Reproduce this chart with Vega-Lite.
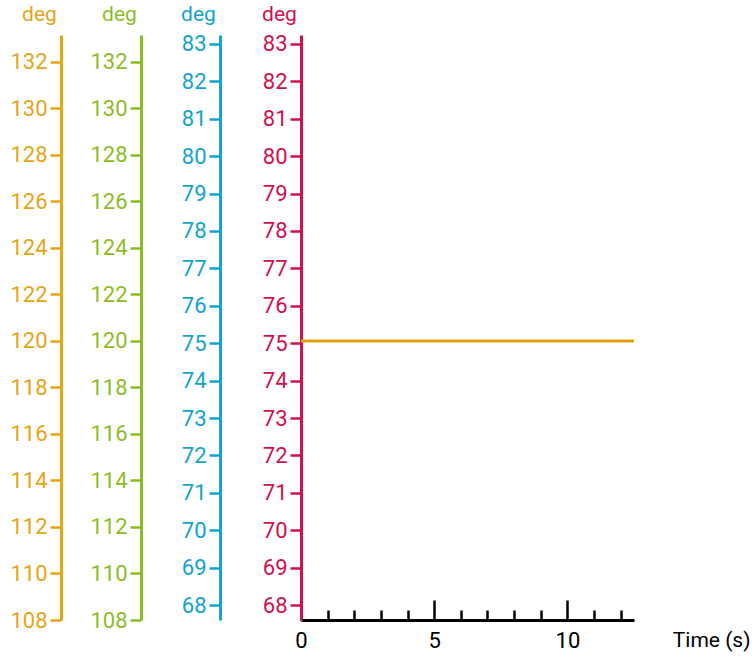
{
  "$schema": "https://vega.github.io/schema/vega-lite/v6.json",
  "width": 333,
  "height": 585,
  "autosize": "none",
  "padding": {"left": 301, "top": 35, "right": 122, "bottom": 43},
  "background": "white",
  "config": {
    "view": {"stroke": null},
    "font": "Roboto",
    "axis": {
      "grid": false,
      "labelFont": "Roboto",
      "titleFont": "Roboto",
      "labelFontSize": 22,
      "titleFontSize": 21,
      "titleFontWeight": "normal",
      "labelOverlap": false,
      "labelFlush": false,
      "domainWidth": 3,
      "tickWidth": 2.5,
      "zindex": 1
    }
  },
  "data": {
    "values": [
      {"time": 0, "value": 120},
      {"time": 12.5, "value": 120}
    ]
  },
  "encoding": {
    "x": {
      "field": "time",
      "type": "quantitative",
      "scale": {"domain": [0, 12.5], "nice": false, "zero": false},
      "axis": {
        "values": [0, 1, 2, 3, 4, 5, 6, 7, 8, 9, 10, 11, 12],
        "labelExpr": "datum.value % 5 === 0 ? datum.label : ''",
        "domainColor": "black",
        "tickColor": "black",
        "labelColor": "black",
        "tickSize": {"condition": {"test": "datum.value % 5 === 0", "value": -20}, "value": -10},
        "labelPadding": 30,
        "title": "Time (s)",
        "titleColor": "black",
        "titleAnchor": "end",
        "titleAlign": "right",
        "titleBaseline": "alphabetic",
        "titleX": 449,
        "titleY": 26
      }
    }
  },
  "layer": [
    {
      "mark": {"type": "line", "color": "#E2A012", "strokeWidth": 3},
      "encoding": {
        "y": {
          "field": "value",
          "type": "quantitative",
          "scale": {"domain": [108, 133.15], "nice": false, "zero": false},
          "axis": {
            "orient": "left",
            "offset": 240,
            "values": [108, 110, 112, 114, 116, 118, 120, 122, 124, 126, 128, 130, 132],
            "domainColor": "#E6A514",
            "tickColor": "#E6A514",
            "labelColor": "#E6A514",
            "tickSize": 11,
            "labelPadding": 3,
            "title": "deg",
            "titleColor": "#E6A514",
            "titleAngle": 0,
            "titleAlign": "center",
            "titleBaseline": "alphabetic",
            "titleX": -22,
            "titleY": -15
          }
        }
      }
    },
    {
      "mark": {"type": "line", "opacity": 0},
      "encoding": {
        "y": {
          "field": "value",
          "type": "quantitative",
          "scale": {"domain": [108, 133.15], "nice": false, "zero": false},
          "axis": {
            "orient": "left",
            "offset": 160,
            "values": [108, 110, 112, 114, 116, 118, 120, 122, 124, 126, 128, 130, 132],
            "domainColor": "#8CBE24",
            "tickColor": "#8CBE24",
            "labelColor": "#8CBE24",
            "tickSize": 11,
            "labelPadding": 3,
            "title": "deg",
            "titleColor": "#8CBE24",
            "titleAngle": 0,
            "titleAlign": "center",
            "titleBaseline": "alphabetic",
            "titleX": -22,
            "titleY": -15
          }
        }
      }
    },
    {
      "mark": {"type": "line", "opacity": 0},
      "encoding": {
        "y": {
          "field": "value",
          "type": "quantitative",
          "scale": {"domain": [67.6, 83.24], "nice": false, "zero": false},
          "axis": {
            "orient": "left",
            "offset": 81,
            "values": [68, 69, 70, 71, 72, 73, 74, 75, 76, 77, 78, 79, 80, 81, 82, 83],
            "domainColor": "#12A3CF",
            "tickColor": "#12A3CF",
            "labelColor": "#12A3CF",
            "tickSize": 11,
            "labelPadding": 3,
            "title": "deg",
            "titleColor": "#12A3CF",
            "titleAngle": 0,
            "titleAlign": "center",
            "titleBaseline": "alphabetic",
            "titleX": -22,
            "titleY": -15
          }
        }
      }
    },
    {
      "mark": {"type": "line", "opacity": 0},
      "encoding": {
        "y": {
          "field": "value",
          "type": "quantitative",
          "scale": {"domain": [67.6, 83.24], "nice": false, "zero": false},
          "axis": {
            "orient": "left",
            "offset": 0,
            "values": [68, 69, 70, 71, 72, 73, 74, 75, 76, 77, 78, 79, 80, 81, 82, 83],
            "domainColor": "#CF1150",
            "tickColor": "#CF1150",
            "labelColor": "#CF1150",
            "tickSize": 11,
            "labelPadding": 3,
            "title": "deg",
            "titleColor": "#CF1150",
            "titleAngle": 0,
            "titleAlign": "center",
            "titleBaseline": "alphabetic",
            "titleX": -22,
            "titleY": -15
          }
        }
      }
    }
  ],
  "resolve": {"scale": {"y": "independent"}, "axis": {"y": "independent"}}
}
